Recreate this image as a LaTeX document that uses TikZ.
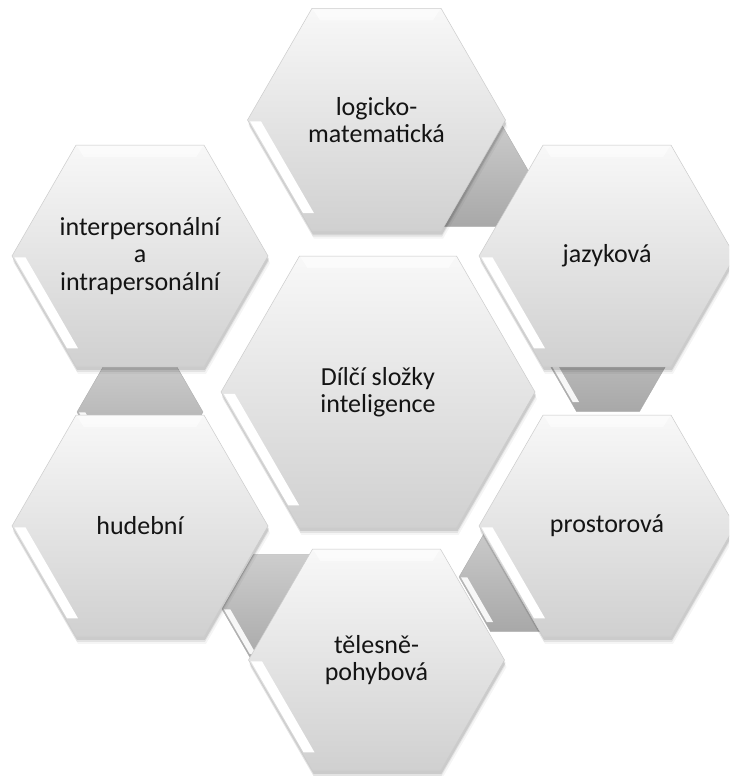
\documentclass[tikz,border=0pt]{standalone}
\usepackage{fontspec}
\setmainfont{Carlito}
\usetikzlibrary{calc}
\definecolor{hextop}{HTML}{F8F8F8}
\definecolor{hexbot}{HTML}{D0D0D0}
\definecolor{contop}{HTML}{CDCDCD}
\definecolor{conbot}{HTML}{A8A8A8}
\definecolor{hexline}{HTML}{CCCCCC}
\definecolor{txtcol}{HTML}{141414}
\tikzset{
  hexlabel/.style={align=center, text=txtcol, font=\fontsize{26}{27.5}\selectfont, inner sep=0pt},
  hexbody/.style={top color=hextop, bottom color=hexbot, draw=hexline, line width=0.5pt},
  conbody/.style={top color=contop, bottom color=conbot, draw=conbot, line width=0.3pt},
  hexshadow/.style={fill=black, opacity=#1},
  bevelstrip/.style={fill=white},
}
% hexagon path (px coordinates, y downward)
\newcommand\hexcmd[4]{%
 \path[#1] ({#2-#4},{776-#3}) -- ({#2-0.5*#4},{776-#3-0.866*#4}) -- ({#2+0.5*#4},{776-#3-0.866*#4}) -- ({#2+#4},{776-#3}) -- ({#2+0.5*#4},{776-#3+0.866*#4}) -- ({#2-0.5*#4},{776-#3+0.866*#4}) -- cycle;}
% white bevel strip along lower-left edge
\newcommand\bevelat[5]{% cx cy R width opacity
 \pgfmathsetmacro\bLx{#1-#3}\pgfmathsetmacro\bLy{776-#2}%
 \pgfmathsetmacro\tA{0.02}\pgfmathsetmacro\tB{0.84}%
 \pgfmathsetmacro\wA{1.5}\pgfmathsetmacro\wB{#4}%
 \pgfmathsetmacro\dt{0.5*(\wB-\wA)/(0.866*#3)}%
 \fill[bevelstrip, opacity=#5] ({\bLx+0.5*#3*\tA+0.866*\wA},{\bLy-0.866*#3*\tA+0.5*\wA})
   -- ({\bLx+0.5*#3*\tB+0.866*\wA},{\bLy-0.866*#3*\tB+0.5*\wA})
   -- ({\bLx+0.5*#3*(\tB+\dt)+0.866*\wB},{\bLy-0.866*#3*(\tB+\dt)+0.5*\wB})
   -- ({\bLx+0.5*#3*(\tA+\dt)+0.866*\wB},{\bLy-0.866*#3*(\tA+\dt)+0.5*\wB}) -- cycle;}
% light band along the top edge
\newcommand\topband[3]{%
 \fill[white, opacity=0.55] ({#1-0.5*#3+1},{776-#2+0.866*#3-1}) -- ({#1+0.5*#3-1},{776-#2+0.866*#3-1}) -- ({#1+0.5*#3-8},{776-#2+0.866*#3-12}) -- ({#1-0.5*#3+8},{776-#2+0.866*#3-12}) -- cycle;}
% big labelled hexagon
\newcommand\bighex[5]{% name cx cy R text
 \hexcmd{hexshadow=0.10, shift={(1,-3)}}{#2}{#3}{#4}
 \hexcmd{hexshadow=0.07, shift={(1,-5)}}{#2}{#3}{#4}
 \hexcmd{hexshadow=0.04, shift={(2,-7)}}{#2}{#3}{#4}
 \hexcmd{hexbody}{#2}{#3}{#4}
 \topband{#2}{#3}{#4}
 \bevelat{#2}{#3}{#4}{11}{1}
 \node[hexlabel] (#1) at (#2,{776-#3}) {#5};}
% dark connector hexagon
\newcommand\conhex[3]{%
 \hexcmd{conbody}{#1}{#2}{#3}
 \bevelat{#1}{#2}{#3}{7}{0.9}}
\begin{document}
\begin{tikzpicture}[x=1pt,y=1pt]
\useasboundingbox (0,0) rectangle (729,776);
\fill[white] (0,0) rectangle (729,776);
\clip (0,0) rectangle (729,776);
% connectors (behind)
\conhex{466}{172}{63}
\conhex{608}{357}{63}
\conhex{522}{577}{63}
\conhex{285}{609}{63}
\conhex{140}{412}{63}
% outer hexagons
\bighex{logic}{376.5}{120}{129}{logicko-\\matematická}
\bighex{lang}{607}{256}{128}{jazyková}
\bighex{space}{607}{526}{128}{prostorová}
\bighex{body}{376.5}{660}{128}{tělesně-\\pohybová}
\bighex{music}{140}{526}{128}{hudební}
\bighex{inter}{140}{256}{128}{interpersonální\\a\\intrapersonální}
% centre
\bighex{centre}{378}{392}{157}{Dílčí složky\\inteligence}
\end{tikzpicture}
\end{document}
